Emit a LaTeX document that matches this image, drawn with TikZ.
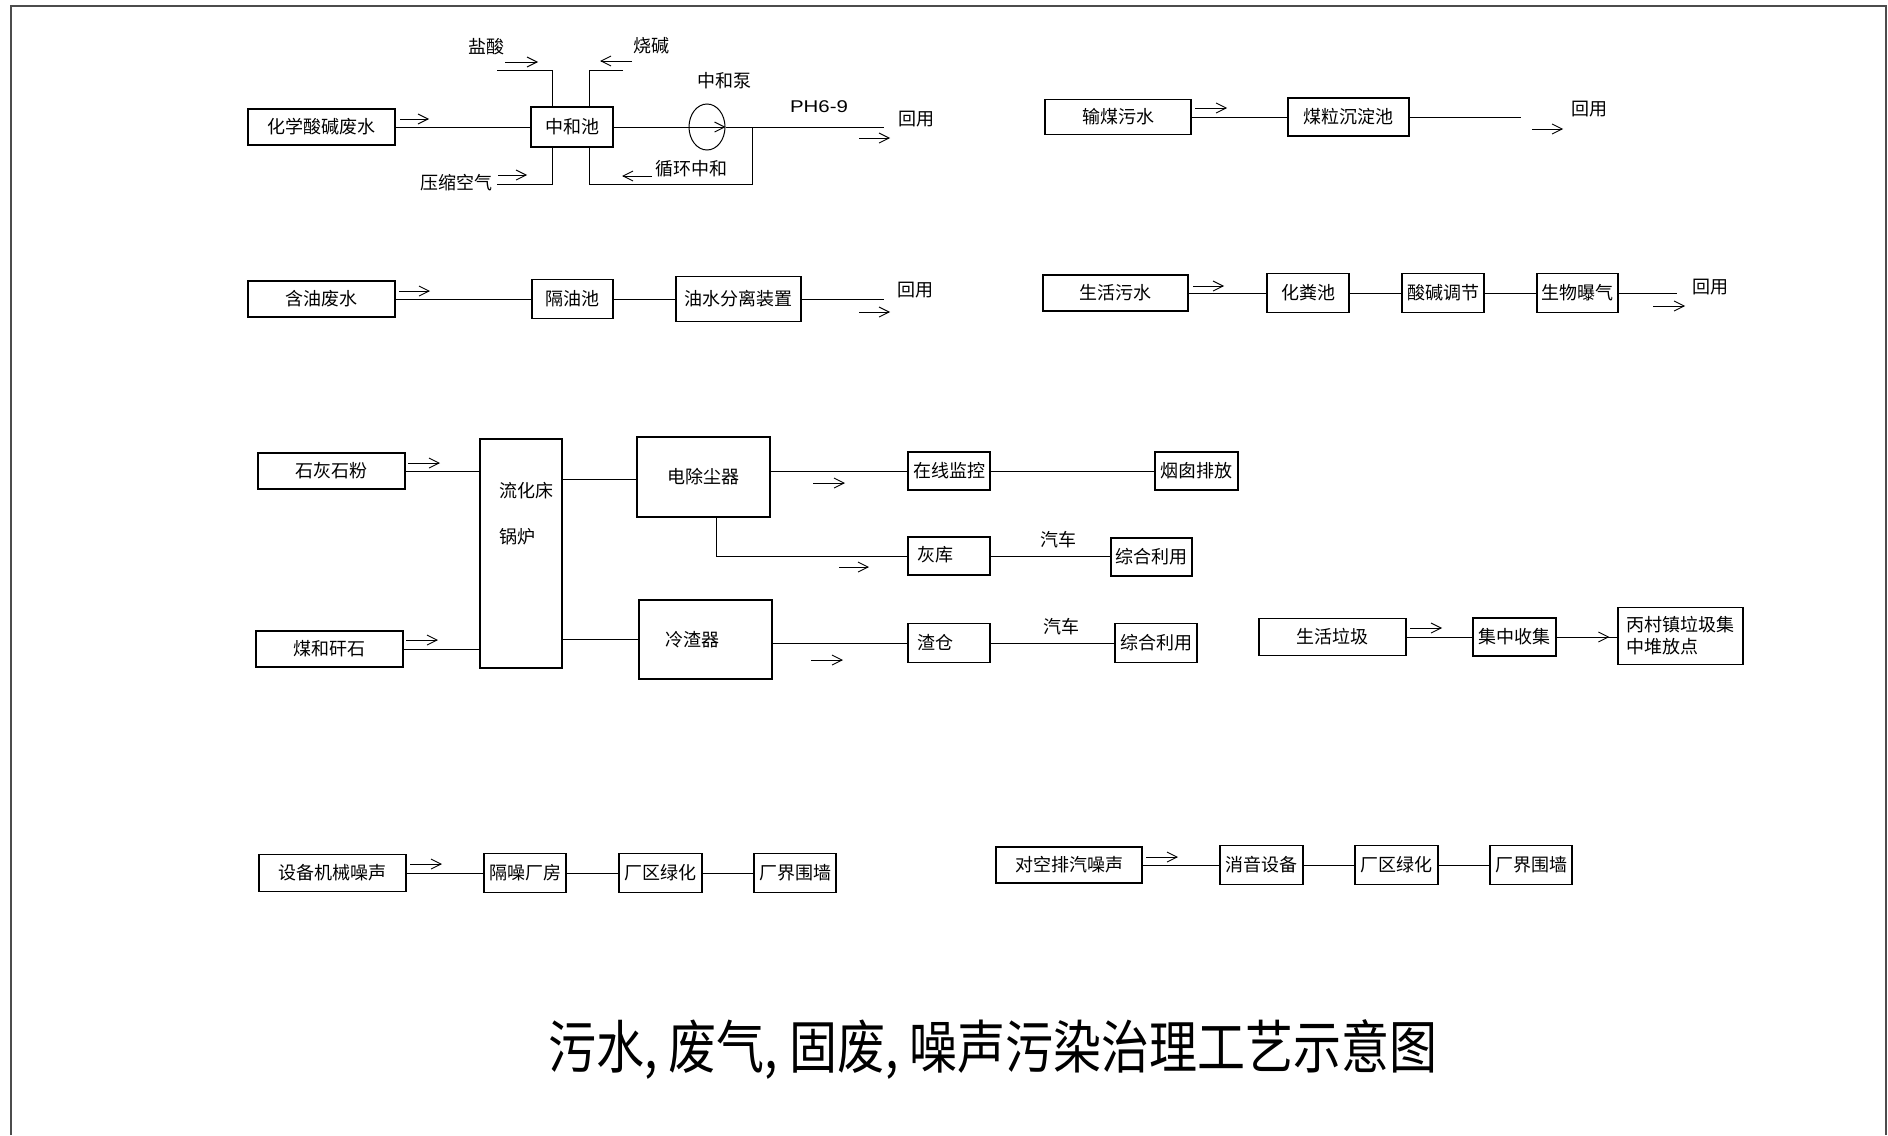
\documentclass[tikz,border=0pt]{standalone}
\usepackage{fontspec}
\setmainfont{Noto Sans CJK SC}
\newfontfamily\latinsf{Liberation Sans}
\usetikzlibrary{arrows.meta,shapes.geometric}
\begin{document}
\begin{tikzpicture}[x=0.5pt,y=-0.5pt, line width=0.5pt,
  bx/.style 2 args={draw, line width=0.6pt, minimum width=#1*0.5pt, minimum height=#2*0.5pt, inner sep=0pt, align=left, font=\fontsize{9pt}{11pt}\selectfont},
  txt/.style={inner sep=0pt, font=\fontsize{9pt}{11pt}\selectfont},
  flow/.style={line width=0.45pt, -{Straight Barb[length=5pt,width=5pt]}},
  frame/.style={line width=1pt, black!70}]

\useasboundingbox (0,0) rectangle (1888,1135);
\draw[frame] (11,1135) -- (11,6) -- (1886,6) -- (1886,1135);

% ---------------- Row 1 left: acid/alkali waste water ----------------
\node[bx={147}{36}] (a1) at (321.5,127) {化学酸碱废水};
\node[bx={82}{40}] (a2) at (572,127) {中和池};
\node[draw, ellipse, minimum width=18pt, minimum height=23pt, inner sep=0pt] (pump) at (707,127) {};
\coordinate (a2out) at (884,127);
\coordinate (loopend) at (752,127);
\coordinate (hcl) at (497,70);
\coordinate (naoh) at (623,70);
\coordinate (air) at (497,184);
\draw (a1.east) -- (a2.west);
\draw (a2.east) -- (pump.west);
\draw[flow] (pump.west) -- (pump.east);
\draw (pump.east) -- (a2out);
\draw ([xshift=8.5pt]a2.south) -- ++(0,37) -| (loopend);
\draw (hcl) -| ([xshift=-10pt]a2.north);
\draw (naoh) -| ([xshift=8.5pt]a2.north);
\draw (air) -| ([xshift=-10pt]a2.south);
\node[txt] (t_hcl) at (486,47) {盐酸};
\node[txt] (t_naoh) at (651,46) {烧碱};
\node[txt] (t_air) at (456,183) {压缩空气};
\node[txt] (t_loop) at (691,169) {循环中和};
\node[txt] (t_pump) at (724,81) {中和泵};
\node[inner sep=0pt, font=\latinsf\fontsize{8.5pt}{10pt}\selectfont] (t_ph) at (819,107) {\scalebox{1.2}[1]{PH6-9}};
\node[txt] (t_r1) at (916,119) {回用};
\draw[flow] (400,119) -- (429,119);
\draw[flow] (505,62) -- (538,62);
\draw[flow] (632,61) -- (600,61);
\draw[flow] (498,175) -- (527,175);
\draw[flow] (652,176) -- (622,176);
\draw[flow] (859,138) -- (890,138);

% ---------------- Row 1 right: coal conveying water ----------------
\node[bx={146}{35}] (b1) at (1118,117) {输煤污水};
\node[bx={121}{38}] (b2) at (1348.5,117) {煤粒沉淀池};
\coordinate (b2out) at (1521,117);
\draw (b1.east) -- (b2.west);
\draw (b2.east) -- (b2out);
\node[txt] (t_r2) at (1589,109) {回用};
\draw[flow] (1195,108) -- (1227,108);
\draw[flow] (1532,129) -- (1563,129);

% ---------------- Row 2 left: oily water ----------------
\node[bx={147}{36}] (c1) at (321.5,299) {含油废水};
\node[bx={81}{39}] (c2) at (572.5,299) {隔油池};
\node[bx={125}{45}] (c3) at (738.5,299) {油水分离装置};
\coordinate (c3out) at (884,299);
\draw (c1.east) -- (c2.west);
\draw (c2.east) -- (c3.west);
\draw (c3.east) -- (c3out);
\node[txt] (t_r3) at (915,290) {回用};
\draw[flow] (399,291) -- (430,291);
\draw[flow] (859,312) -- (890,312);

% ---------------- Row 2 right: domestic sewage ----------------
\node[bx={145}{36}] (d1) at (1115.5,293) {生活污水};
\node[bx={82}{39}] (d2) at (1308,293) {化粪池};
\node[bx={82}{39}] (d3) at (1443,293) {酸碱调节};
\node[bx={81}{39}] (d4) at (1577.5,293) {生物曝气};
\coordinate (d4out) at (1677,293);
\draw (d1.east) -- (d2.west);
\draw (d2.east) -- (d3.west);
\draw (d3.east) -- (d4.west);
\draw (d4.east) -- (d4out);
\node[txt] (t_r4) at (1710,287) {回用};
\draw[flow] (1193,286) -- (1224,286);
\draw[flow] (1653,306) -- (1685,306);

% ---------------- Row 3: boiler ----------------
\node[bx={147}{36}] (e1) at (331.5,471) {石灰石粉};
\node[bx={147}{36}] (e2) at (329.5,649) {煤和矸石};
\node[bx={82}{229}] (boiler) at (521,553.5) {};
\node[txt, anchor=west] (t_boiler1) at (499,491) {流化床};
\node[txt, anchor=west] (t_boiler2) at (499,537) {锅炉};
\node[bx={133}{80}] (esp) at (703.5,477) {电除尘器};
\node[bx={133}{79}] (cooler) at (705.5,639.5) {};
\node[txt, anchor=west] (t_cooler) at (665,640) {冷渣器};
\node[bx={82}{38}] (f1) at (949,471) {在线监控};
\node[bx={83}{38}] (f2) at (1196.5,471) {烟囱排放};
\node[bx={82}{38}] (f3) at (949,556) {};
\node[txt, anchor=west] (t_f3) at (917,555) {灰库};
\node[bx={81}{38}] (f4) at (1151.5,557) {综合利用};
\node[bx={82}{39}] (f5) at (949,643) {};
\node[txt, anchor=west] (t_f5) at (917,643) {渣仓};
\node[bx={82}{39}] (f6) at (1156,643) {综合利用};
\node[txt] (t_car1) at (1058,540) {汽车};
\node[txt] (t_car2) at (1061,627) {汽车};

\draw (e1.east) -- (e1.east -| boiler.west);
\draw (e2.east) -- (e2.east -| boiler.west);
\draw (boiler.east |- 0,479) -- (esp.west |- 0,479);
\draw (boiler.east |- 0,639) -- (cooler.west |- 0,639);
\draw (esp.east |- f1.west) -- (f1.west);
\draw ([xshift=6.25pt]esp.south) |- (f3.west);
\draw (cooler.east |- f5.west) -- (f5.west);
\draw (f1.east) -- (f2.west);
\draw (f3.east) -- (f3.east -| f4.west);
\draw (f5.east) -- (f6.west);
\draw[flow] (408,463) -- (440,463);
\draw[flow] (406,640) -- (438,640);
\draw[flow] (813,483) -- (845,483);
\draw[flow] (839,567) -- (869,567);
\draw[flow] (811,660) -- (843,660);

% ---------------- Row 3 right: domestic garbage ----------------
\node[bx={147}{37}] (g1) at (1332.5,637) {生活垃圾};
\node[bx={83}{38}] (g2) at (1514.5,637) {集中收集};
\node[bx={125}{57}] (g3) at (1680.5,636) {丙村镇垃圾集\\中堆放点};
\draw (g1.east) -- (g2.west);
\draw (g2.east) -- (g2.east -| g3.west);
\draw[flow] ([xshift=-19pt]g3.west |- g2.east) -- ([xshift=-4pt]g3.west |- g2.east);
\draw[flow] (1410,628) -- (1442,628);

% ---------------- Row 4: noise ----------------
\node[bx={147}{37}] (h1) at (332.5,873) {设备机械噪声};
\node[bx={82}{39}] (h2) at (525,873) {隔噪厂房};
\node[bx={83}{39}] (h3) at (660.5,873) {厂区绿化};
\node[bx={82}{39}] (h4) at (795,873) {厂界围墙};
\draw (h1.east) -- (h2.west);
\draw (h2.east) -- (h3.west);
\draw (h3.east) -- (h4.west);
\draw[flow] (410,864) -- (442,864);

\node[bx={146}{36}] (i1) at (1069,865) {对空排汽噪声};
\node[bx={83}{39}] (i2) at (1261.5,865) {消音设备};
\node[bx={83}{39}] (i3) at (1396.5,865) {厂区绿化};
\node[bx={82}{39}] (i4) at (1531,865) {厂界围墙};
\draw (i1.east) -- (i2.west);
\draw (i2.east) -- (i3.west);
\draw (i3.east) -- (i4.west);
\draw[flow] (1146,857) -- (1178,857);

% ---------------- Title ----------------
\node[inner sep=0pt, font=\fontsize{24pt}{28pt}\selectfont] (title) at (993,1050) {\scalebox{1}[1.2]{污水, 废气, 固废, 噪声污染治理工艺示意图}};
\end{tikzpicture}
\end{document}
